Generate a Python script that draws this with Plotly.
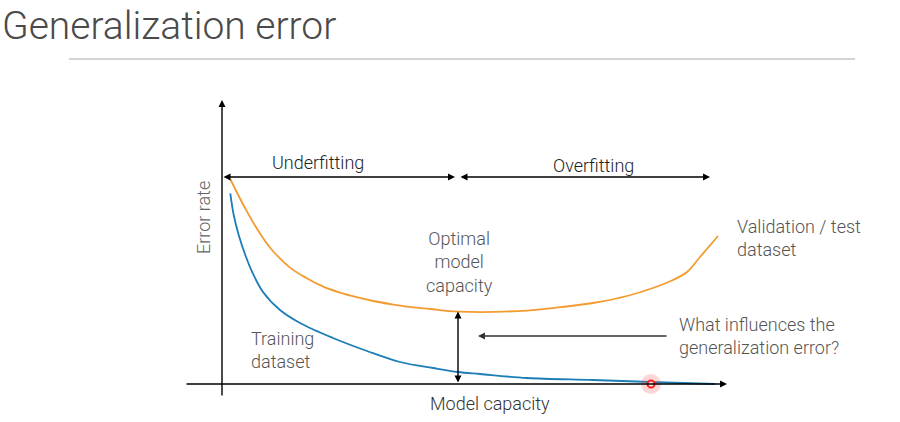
import plotly.graph_objects as go

# ---- data (model capacity vs error rate, conceptual units) ----
capacity_val = [0.166, 0.334, 0.50, 0.666, 0.834, 1.00, 1.36, 1.694, 2.026, 2.36, 2.694,
                3.026, 3.36, 3.694, 4.16, 4.72, 6.10, 6.76, 7.42, 8.10, 8.62, 9.02, 9.30,
                9.56, 9.92]
error_val = [1.025, 0.94, 0.862, 0.79, 0.725, 0.67, 0.582, 0.529, 0.487, 0.457, 0.434,
             0.415, 0.40, 0.387, 0.375, 0.362, 0.367, 0.384, 0.405, 0.44, 0.48, 0.52, 0.56,
             0.635, 0.74]

capacity_train = [0.166, 0.234, 0.334, 0.466, 0.60, 0.82, 1.16, 1.56, 2.22, 2.90, 3.56, 4.22,
                  4.72, 5.16, 6.10, 7.42, 8.56, 9.86]
error_train = [0.953, 0.845, 0.745, 0.645, 0.562, 0.46, 0.37, 0.305, 0.23, 0.165, 0.11, 0.08,
               0.06, 0.05, 0.03, 0.02, 0.01, 0.0]

optimal_capacity = 4.72
optimal_val_error = 0.362
pointer_x = [8.58]
pointer_y = [0.0]

title_text = "Generalization error"
x_label = "Model capacity"
y_label = "Error rate"

ORANGE = "#F39B31"
BLUE = "#1C7DB7"
TEXT = "#555555"
FONT = "Roboto"

fig = go.Figure()
fig.add_trace(go.Scatter(x=capacity_val, y=error_val, mode="lines",
                         line=dict(color=ORANGE, width=1.8, shape="spline", smoothing=1.0),
                         hoverinfo="skip", showlegend=False))
fig.add_trace(go.Scatter(x=capacity_train, y=error_train, mode="lines",
                         line=dict(color=BLUE, width=1.8, shape="spline", smoothing=1.0),
                         hoverinfo="skip", showlegend=False))
# laser pointer dot
fig.add_trace(go.Scatter(x=pointer_x, y=pointer_y, mode="markers",
                         marker=dict(size=20, color="rgba(255,70,70,0.22)", line=dict(width=0)),
                         hoverinfo="skip", showlegend=False))
fig.add_trace(go.Scatter(x=pointer_x, y=pointer_y, mode="markers",
                         marker=dict(size=7, color="rgba(255,235,235,0.95)",
                                     line=dict(width=2, color="#FF2020")),
                         hoverinfo="skip", showlegend=False))

def arrow(x0, y0, x1, y1, both=False, color="black", width=1.4):
    fig.add_annotation(x=x1, y=y1, ax=x0, ay=y0, xref="x", yref="y", axref="x", ayref="y",
                       text="", showarrow=True, arrowhead=2, startarrowhead=2,
                       arrowsize=1, startarrowsize=1, arrowwidth=width, arrowcolor=color,
                       arrowside="end+start" if both else "end")

# axes
arrow(0, -0.065, 0, 1.42)
arrow(-0.74, 0, 10.1, 0)
# underfitting / overfitting ranges
arrow(0.0, 1.035, 4.66, 1.035, both=True)
arrow(4.74, 1.035, 9.76, 1.035, both=True)
# optimal gap
arrow(optimal_capacity, 0.0, optimal_capacity, optimal_val_error, both=True)
# question arrow
arrow(8.92, 0.24, 5.12, 0.24, color="#333333")

def label(x, y, text, anchor="center", size=18, color=TEXT, angle=0):
    fig.add_annotation(x=x, y=y, xref="x", yref="y", text=text, showarrow=False,
                       xanchor=anchor, yanchor="middle", textangle=angle,
                       align=anchor if anchor != "center" else "center",
                       font=dict(family=FONT, size=size, color=color, weight=300))

label(1.92, 1.11, "Underfitting", color="#222222")
label(7.42, 1.095, "Overfitting", color="#222222")
label(4.74, 0.61, "Optimal<br>model<br>capacity")
label(10.26, 0.7325, "Validation / test<br>dataset", anchor="left")
label(9.1, 0.24, "What influences the<br>generalization error?", anchor="left")
label(0.54, 0.1725, "Training<br>dataset", anchor="left")
label(5.36, -0.095, x_label, color="#333333")
label(-0.38, 0.83, y_label, angle=-90, color="#666666")

# slide title and rule
fig.add_annotation(x=0, y=1-26/422, xref="paper", yref="paper", text=title_text,
                   showarrow=False, xanchor="left", yanchor="middle",
                   font=dict(family=FONT, size=39, color="#4a4a4a", weight=300))
fig.add_shape(type="line", xref="paper", yref="paper", x0=69/900, x1=855/900,
              y0=1-59/422, y1=1-59/422, line=dict(color="#A8A8A8", width=1))

fig.update_layout(width=900, height=422, margin=dict(l=0, r=0, t=0, b=0),
                  paper_bgcolor="white", plot_bgcolor="white",
                  xaxis=dict(range=[-4.44, 13.56], visible=False),
                  yaxis=dict(range=[-0.19, 1.92], visible=False))
fig.write_html("out.html")
